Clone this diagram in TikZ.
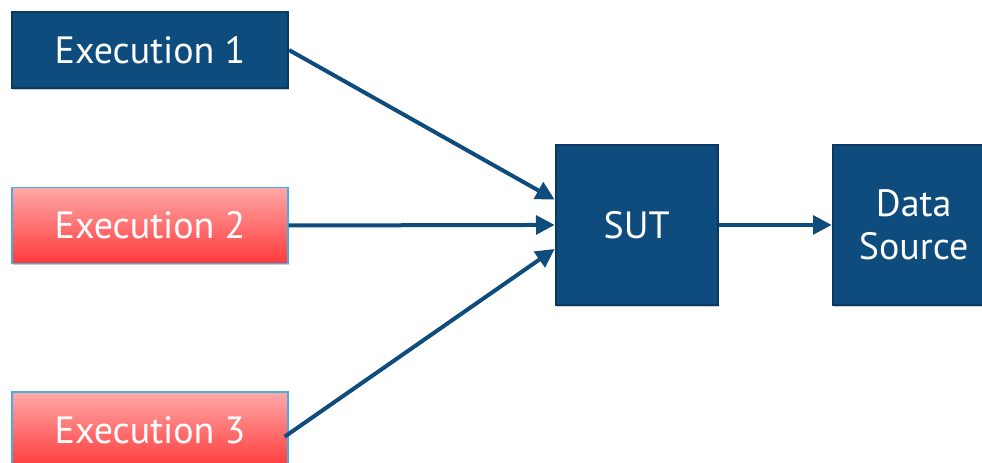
\documentclass[tikz,border=0pt]{standalone}
\usepackage{fontspec}
\setmainfont{PT Sans}
\usetikzlibrary{positioning,arrows.meta,shadows}

\definecolor{boxblue}{HTML}{0F4C7E}
\definecolor{edgeblue}{HTML}{0A3A62}
\definecolor{redtop}{HTML}{FFA8A8}
\definecolor{redbot}{HTML}{FF3A3A}
\definecolor{rededge}{HTML}{45AEE3}

\tikzset{
  base/.style={rectangle,text=white,font=\fontsize{28.5}{32}\selectfont,align=center,
    drop shadow={shadow xshift=1pt,shadow yshift=-1.5pt,opacity=0.2,fill=black}},
  okbox/.style={base,fill=boxblue,draw=edgeblue,line width=1.5pt},
  failbox/.style={base,top color=redtop,bottom color=redbot,draw=rededge,line width=1pt},
  execbox/.style={minimum width=207pt,minimum height=57pt},
  bigbox/.style={minimum width=121.5pt,minimum height=120pt},
  link/.style={draw=boxblue,line width=3pt,-{Triangle[length=14pt,width=14pt]}}
}

\begin{document}
\begin{tikzpicture}[x=0.75pt,y=-0.75pt]
      \clip (0,0) rectangle (982,462);

      \node[okbox,execbox] (e1) at (150,50) {Execution 1};
      \node[failbox,execbox,below of=e1,node distance=131.6pt] (e2) {Execution 2};
      \node[failbox,execbox,below of=e2,node distance=153.4pt] (e3) {Execution 3};
      \node[okbox,bigbox,right of=e2,node distance=365pt,yshift=0.4pt] (sut) {SUT};
      \node[okbox,bigbox,right of=sut,node distance=207.75pt] (src) {Data\\Source};

      \draw[link] (e1.east) -- ([yshift=19pt]sut.west);
      \draw[link] (e2.east) -- (sut.west);
      \draw[link] ([xshift=-3pt,yshift=-5pt]e3.east) -- ([yshift=-18pt]sut.west);
      \draw[link] (sut.east) -- (src.west);
    \end{tikzpicture}
\end{document}
